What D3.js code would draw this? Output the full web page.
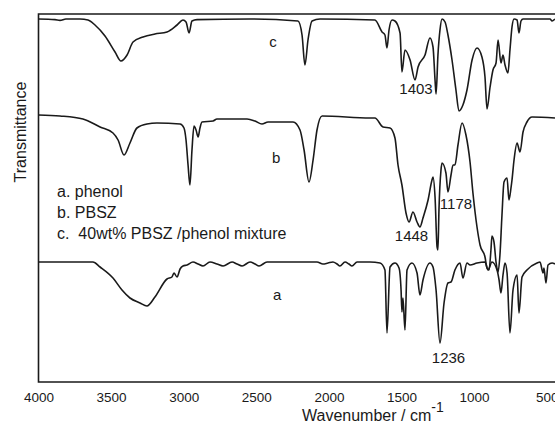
<!DOCTYPE html>
<html>
<head>
<meta charset="utf-8">
<script src="https://cdn.jsdelivr.net/npm/d3@7"></script>
<style>
  body { margin: 0; background: #fff; }
  svg { display: block; font-family: "Liberation Sans", Arial, sans-serif; fill: #1a1a1a; }
</style>
</head>
<body>
<script>
// FTIR spectra: [wavenumber (cm-1), transmittance (offset, a.u.)]
const traceA = [
  [4000, 30], [3625, 30], [3576, 28.75], [3487, 26], [3425, 23], [3370, 21], [3301, 19.75],
  [3253, 19], [3198, 21.25], [3115, 25.75], [3081, 26.25], [3067, 27.25], [3046, 26.25],
  [3025, 28.25], [3005, 29], [2977, 29.25], [2936, 30], [2901, 29.5], [2867, 29], [2819, 30],
  [2771, 29.5], [2729, 29], [2667, 30], [2633, 29.5], [2598, 29], [2543, 30], [2509, 29.5],
  [2481, 29], [2426, 30], [2082, 30], [2041, 29.5], [2006, 29.75], [1972, 30], [1944, 29.5],
  [1924, 29], [1889, 30], [1862, 29.5], [1841, 29], [1806, 30], [1717, 30], [1648, 29.75],
  [1614, 28], [1600, 12.25], [1579, 28.75], [1545, 29.75], [1517, 28.5], [1503, 23],
  [1497, 17.5], [1490, 21], [1476, 13], [1462, 28], [1428, 29.75], [1393, 27.25],
  [1373, 21.75], [1352, 25.5], [1304, 29.75], [1283, 28.75], [1262, 23], [1235, 9.75],
  [1207, 19.75], [1180, 24.75], [1159, 25], [1132, 28], [1097, 29.75], [1077, 26],
  [1049, 29.75], [1028, 29.25], [980, 29.75], [925, 30], [904, 28], [877, 30], [842, 28],
  [828, 25.5], [815, 22.25], [801, 26.75], [787, 29.75], [773, 27.25], [753, 12.25],
  [732, 23], [704, 26.75], [691, 17.25], [670, 26.25], [636, 28], [567, 29.75], [546, 30],
  [525, 27.25], [519, 28.5], [505, 24.75], [491, 29.25], [463, 29.75], [443, 29.5]
]

const traceB = [
  [4000, 66.75], [3852, 66.5], [3694, 65.75], [3576, 63.75], [3487, 62.25], [3452, 60.5],
  [3411, 56.75], [3370, 59.75], [3322, 63.5], [3253, 64.5], [3184, 64.75], [3025, 64.5],
  [2998, 63.5], [2984, 60.5], [2970, 54.25], [2957, 49.25], [2943, 58], [2929, 64],
  [2915, 63], [2901, 61.25], [2888, 63.5], [2874, 65], [2798, 65.25], [2771, 65.75],
  [2564, 65.75], [2509, 65.25], [2461, 64.5], [2419, 65], [2247, 65], [2199, 63],
  [2171, 58], [2137, 50], [2109, 55.5], [2082, 63], [2047, 66.5], [1717, 66], [1683, 66],
  [1627, 63.75], [1579, 63.5], [1545, 61], [1524, 54.25], [1497, 49.25], [1469, 42.25],
  [1448, 40], [1421, 42.5], [1393, 40], [1373, 38.75], [1352, 41], [1317, 45.5],
  [1290, 50.5], [1283, 51.25], [1269, 46.25], [1255, 33.75], [1249, 33], [1242, 43],
  [1228, 53], [1221, 54.75], [1194, 52.25], [1180, 47.5], [1159, 51.75], [1145, 54.25],
  [1132, 54.25], [1111, 59.25], [1083, 64.75], [1056, 61.75], [1028, 55], [1008, 47.25],
  [980, 38.75], [959, 34.25], [925, 31.25], [911, 28.5], [897, 28], [884, 33], [877, 36.5],
  [863, 35], [849, 30], [835, 27.5], [822, 31.75], [808, 41.75], [794, 50], [773, 51],
  [760, 45.5], [746, 48.5], [739, 50.5], [725, 55.5], [704, 59.75], [684, 57.5],
  [663, 62.5], [636, 65], [601, 66.25], [443, 66]
]

const traceC = [
  [4000, 90.75], [3886, 90.6], [3852, 90.4], [3811, 90.75], [3714, 90.75], [3659, 90.5],
  [3611, 89.25], [3542, 86.5], [3473, 82.5], [3432, 80.25], [3390, 81.75], [3349, 85],
  [3280, 86.25], [3198, 87], [3115, 87.5], [3046, 89.25], [3005, 90.5], [2984, 90],
  [2963, 87.25], [2943, 90.25], [2908, 90.6], [2543, 90.75], [2213, 90.25], [2185, 86.75],
  [2165, 79.25], [2144, 85.5], [2116, 90.25], [2061, 90.75], [1683, 90.5], [1634, 87.5],
  [1614, 86.75], [1600, 83.5], [1586, 88], [1565, 90.5], [1545, 90.25], [1510, 87.25],
  [1497, 77.5], [1476, 83], [1441, 80.5], [1407, 75.5], [1386, 78.75], [1338, 81.75],
  [1304, 86], [1283, 83.75], [1269, 75.5], [1262, 72], [1249, 81.75], [1235, 88],
  [1221, 90.75], [1200, 90], [1180, 86.75], [1152, 80.5], [1125, 73], [1104, 67.75],
  [1077, 69.25], [1049, 73], [1014, 80.5], [980, 83.5], [946, 81.25], [925, 76.25],
  [911, 68.25], [890, 73.75], [870, 78], [849, 79.75], [835, 85.5], [815, 79.75],
  [801, 81.75], [787, 79.25], [767, 77.25], [753, 83], [739, 88.75], [725, 90.75],
  [704, 90.5], [691, 87.25], [677, 90.25], [663, 90.75], [477, 90.75], [463, 90.25], [443, 90.75]
]

const xTicks = [4000, 3500, 3000, 2500, 2000, 1500, 1000, 500]

const traceNames = ['a', 'b', 'c']
const traceNamePos = [[2357, 20.5], [2364, 54.75], [2385, 83.75]]

const peakLabels = ['1403', '1448', '1178', '1236']
const peakLabelPos = [[1400, 72], [1431, 35.25], [1125, 43.25], [1176, 4.75]]

const legendItems = ['a. phenol', 'b. PBSZ', 'c.  40wt% PBSZ /phenol mixture']

const svgWidth = 555
const svgHeight = 424
const plotLeft = 38.5
const plotTop = 14
const plotBottom = 382

const svg = d3.select('body')
  .append('svg')
  .attr('width', svgWidth)
  .attr('height', svgHeight)

const x = d3.scaleLinear().domain([4000, 500]).range([plotLeft, 546.7])
const y = d3.scaleLinear().domain([0, 92]).range([plotBottom, plotTop])

const line = d3.line()
  .x(d => x(d[0]))
  .y(d => y(d[1]))
  .curve(d3.curveMonotoneX)

svg.selectAll('path.trace')
  .data([traceA, traceB, traceC])
  .enter()
  .append('path')
  .attr('class', 'trace')
  .attr('d', line)
  .attr('fill', 'none')
  .attr('stroke', '#1a1a1a')
  .attr('stroke-width', 1.6)
  .attr('stroke-linejoin', 'round')

const xAxis = svg.append('g')
  .attr('transform', `translate(0,${plotBottom})`)
  .call(d3.axisBottom(x).tickValues(xTicks).tickFormat(d3.format('d')).tickSize(0).tickPadding(10))
xAxis.select('.domain').remove()
xAxis.selectAll('text')
  .attr('font-size', 13.5)
  .attr('font-family', '"Liberation Sans", Arial, sans-serif')
  .attr('fill', '#1a1a1a')

// frame: top, left and bottom edges (right side runs off the picture)
svg.append('path')
  .attr('d', `M${svgWidth},${plotTop}H${plotLeft}V${plotBottom}H${svgWidth}`)
  .attr('fill', 'none')
  .attr('stroke', '#1a1a1a')
  .attr('stroke-width', 1.6)

const xTitle = svg.append('text')
  .attr('x', 302)
  .attr('y', 421)
  .attr('font-size', 16)
xTitle.append('tspan').text('Wavenumber / cm')
xTitle.append('tspan').attr('dy', -9).attr('font-size', 14).text('-1')

svg.append('text')
  .attr('transform', 'translate(26,132) rotate(-90)')
  .attr('text-anchor', 'middle')
  .attr('font-size', 16)
  .text('Transmittance')

svg.selectAll('text.trace-name')
  .data(traceNames)
  .enter()
  .append('text')
  .attr('class', 'trace-name')
  .attr('x', (d, i) => x(traceNamePos[i][0]))
  .attr('y', (d, i) => y(traceNamePos[i][1]))
  .attr('text-anchor', 'middle')
  .attr('font-size', 15)
  .text(d => d)

svg.selectAll('text.peak')
  .data(peakLabels)
  .enter()
  .append('text')
  .attr('class', 'peak')
  .attr('x', (d, i) => x(peakLabelPos[i][0]))
  .attr('y', (d, i) => y(peakLabelPos[i][1]))
  .attr('text-anchor', 'middle')
  .attr('font-size', 15)
  .text(d => d)

svg.selectAll('text.legend')
  .data(legendItems)
  .enter()
  .append('text')
  .attr('class', 'legend')
  .attr('x', 57)
  .attr('y', (d, i) => 197 + i * 21)
  .attr('font-size', 16)
  .style('white-space', 'pre')
  .text(d => d)
</script>
</body>
</html>
